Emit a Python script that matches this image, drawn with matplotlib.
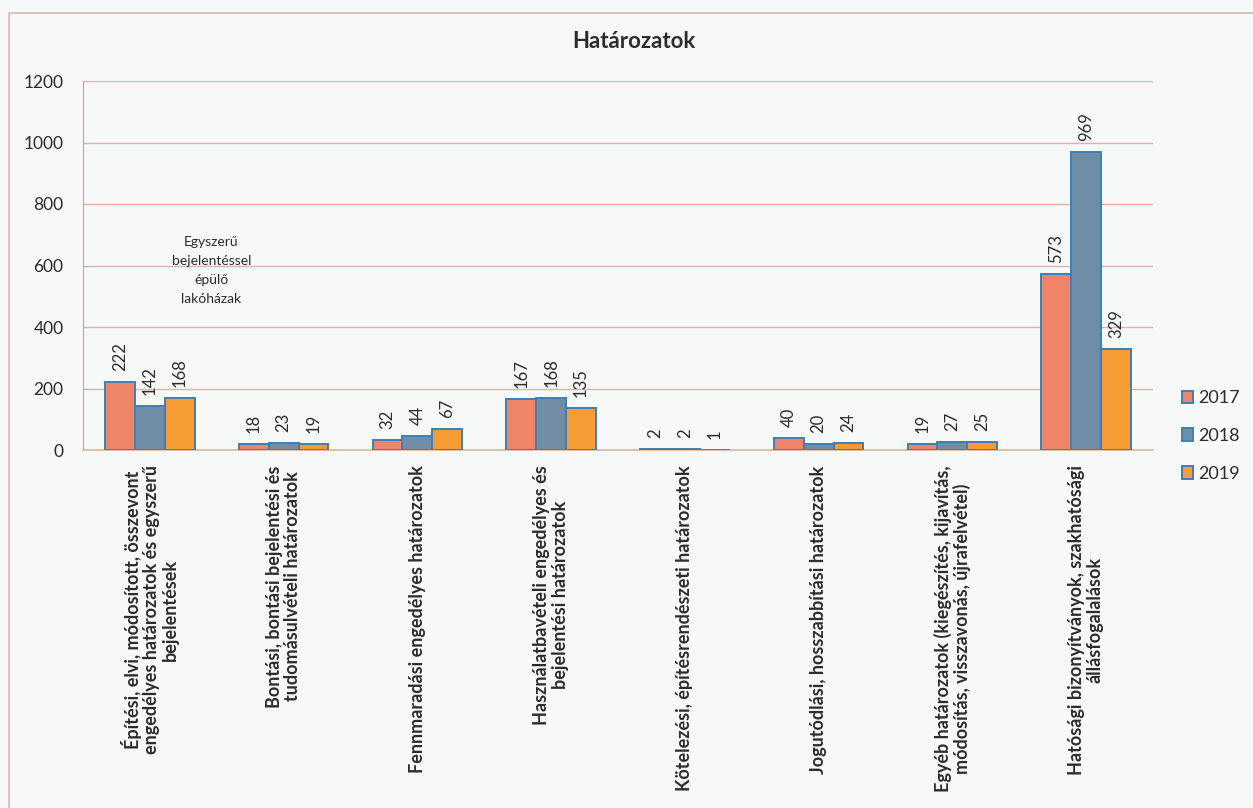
import numpy as np
import matplotlib
matplotlib.use('Agg')
from matplotlib import pyplot as plt
from matplotlib.patches import Rectangle

plt.rcParams['font.family'] = ['Lato', 'DejaVu Sans']

# chart data
categories = [
    'Építési, elvi, módosított, összevont\nengedélyes határozatok és egyszerű\nbejelentések',
    'Bontási, bontási bejelentési és\ntudomásulvételi határozatok',
    'Fennmaradási engedélyes határozatok',
    'Használatbavételi engedélyes és\nbejelentési határozatok',
    'Kötelezési, építésrendészeti határozatok',
    'Jogutódlási, hosszabbítási határozatok',
    'Egyéb határozatok (kiegészítés, kijavítás,\nmódosítás, visszavonás, újrafelvétel)',
    'Hatósági bizonyítványok, szakhatósági\nállásfogalalások',
]
years = ['2017', '2018', '2019']
v2017 = [222, 18, 32, 167, 2, 40, 19, 573]
v2018 = [142, 23, 44, 168, 2, 20, 27, 969]
v2019 = [168, 19, 67, 135, 1, 24, 25, 329]
yticks = [0, 200, 400, 600, 800, 1000, 1200]
title = 'Határozatok'
note = 'Egyszerű\nbejelentéssel\népülő\nlakóházak'

colors = ['#ee8468', '#6f8da6', '#f59c35']
edge = '#3d7fb5'
txt = '#2c2c2c'
bg = '#f7f8f8'

fig = plt.figure(figsize=(12.53, 8.08), dpi=100, facecolor=bg)
ax = fig.add_axes([83 / 1253, 1 - 450 / 808, 1070 / 1253, 369 / 808])
ax.set_facecolor(bg)

# outer chart frame (runs off the page at right/bottom)
fig.patches.append(Rectangle((9 / 1253, -0.1), 1.2, 1.1 - 13 / 808, transform=fig.transFigure,
                             fill=False, edgecolor='#d9b8b2', lw=1.2))

x = np.arange(len(categories))
w = 0.223
bars = []
for i, (vals, col, yr) in enumerate(zip([v2017, v2018, v2019], colors, years)):
    b = ax.bar(x + (i - 1) * w, vals, w, color=col, edgecolor=edge, linewidth=1.4, label=yr, zorder=3)
    bars.append(b)
    for xi, v in zip(x + (i - 1) * w, vals):
        ax.annotate(str(v), (xi, v), xytext=(0, 8), textcoords='offset points',
                    rotation=90, ha='center', va='bottom', fontsize=12, color=txt)

ax.set_xlim(-0.5, len(categories) - 0.5)
ax.set_ylim(0, 1200)
ax.set_yticks(yticks)
ax.set_yticklabels([str(t) for t in yticks], fontsize=12.5, color=txt)
ax.tick_params(axis='y', length=0, pad=14)
ax.set_xticks([])
ax.yaxis.grid(True, color='#dcb3aa', linewidth=1.0, zorder=0)
for s in ['top', 'right']:
    ax.spines[s].set_visible(False)
ax.spines['left'].set_color('#b9aaa6')
ax.spines['bottom'].set_color('#d9b79c')
ax.spines['bottom'].set_linewidth(1.2)

for xi, lab in zip(x, categories):
    ax.annotate(lab, (xi, 0), xytext=(0, -11), textcoords='offset points', rotation=90,
                ha='center', va='top', multialignment='center', fontsize=13,
                fontweight='bold', color=txt, linespacing=1.1)

ax.text(0.46, 585, note, ha='center', va='center', fontsize=10, color=txt, linespacing=1.7)

fig.text(634 / 1253, 1 - 42 / 808, title, ha='center', va='center', fontsize=16,
         fontweight='bold', color=txt)

fig.legend(handles=bars, labels=years, loc='upper left', bbox_to_anchor=(1166 / 1253, 1 - 374 / 808),
           frameon=False, fontsize=13, handlelength=0.6, handleheight=0.7, handletextpad=0.3,
           labelspacing=1.2, labelcolor=txt)

plt.savefig('out.png', dpi=100, facecolor=bg)
